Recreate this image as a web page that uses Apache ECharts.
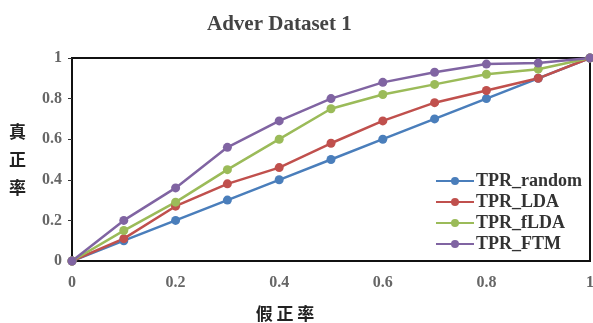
<!DOCTYPE html>
<html><head><meta charset="utf-8">
<script src="https://cdn.jsdelivr.net/npm/echarts@6/dist/echarts.min.js"></script>
<style>html,body{margin:0;padding:0;background:#fff}#c{width:593px;height:323px}</style>
</head><body><div id="c"></div>
<script>
const xValues = [0, 0.1, 0.2, 0.3, 0.4, 0.5, 0.6, 0.7, 0.8, 0.9, 1.0];
const tprRandom = [0, 0.10, 0.20, 0.30, 0.40, 0.50, 0.60, 0.70, 0.80, 0.90, 1.0];
const tprLDA    = [0, 0.11, 0.27, 0.38, 0.46, 0.58, 0.69, 0.78, 0.84, 0.90, 1.0];
const tprFLDA   = [0, 0.15, 0.29, 0.45, 0.60, 0.75, 0.82, 0.87, 0.92, 0.945, 1.0];
const tprFTM    = [0, 0.20, 0.36, 0.56, 0.69, 0.80, 0.88, 0.93, 0.97, 0.975, 1.0];
const seriesNames = ['TPR_random', 'TPR_LDA', 'TPR_fLDA', 'TPR_FTM'];
const seriesData = [tprRandom, tprLDA, tprFLDA, tprFTM];
const colors = ['#4A7EBB', '#C0504D', '#9BBB59', '#8064A2'];
const serif = '"Liberation Serif", "DejaVu Serif", serif';
const cjk = '"Noto Sans CJK SC", sans-serif';

const chart = echarts.init(document.getElementById('c'));
chart.setOption({
  animation: false,
  color: colors,
  title: {
    text: 'Adver Dataset 1', left: 202, top: 9,
    textStyle: { fontFamily: serif, fontWeight: 'bold', fontSize: 21, color: '#444' }
  },
  grid: { left: 72, right: 3, top: 58, bottom: 62, show: true, borderColor: '#111', borderWidth: 2, backgroundColor: 'transparent', outerBoundsMode: 'none', containLabel: false },
  legend: {
    orient: 'vertical', right: 6, top: 167, itemGap: 3, itemWidth: 38, itemHeight: 10,
    textStyle: { fontFamily: serif, fontWeight: 'bold', fontSize: 18, color: '#333', padding: [0,0,0,-3] },
    data: seriesNames
  },
  xAxis: {
    type: 'value', min: 0, max: 1, interval: 0.2,
    axisLine: { show: true, lineStyle: { color: '#111', width: 2 } },
    axisTick: { show: false },
    splitLine: { show: false },
    axisLabel: { fontFamily: serif, fontWeight: 'bold', fontSize: 16, color: '#666', margin: 14 },
    name: '假 正 率', nameLocation: 'middle', nameGap: 44,
    nameTextStyle: { fontFamily: cjk, fontWeight: 'bold', fontSize: 17, color: '#222', padding: [0, 92, 0, 0] }
  },
  yAxis: {
    type: 'value', min: 0, max: 1, interval: 0.2,
    axisLine: { show: true, lineStyle: { color: '#111', width: 2 } },
    axisTick: { show: true, length: 4, lineStyle: { color: '#333' } },
    splitLine: { show: false },
    axisLabel: { fontFamily: serif, fontWeight: 'bold', fontSize: 16, color: '#666', margin: 10 },
    name: '真\n正\n率', nameLocation: 'middle', nameRotate: 0, nameGap: 46,
    nameTextStyle: { fontFamily: cjk, fontWeight: 'bold', fontSize: 17, color: '#222', lineHeight: 28 }
  },
  series: seriesNames.map((n, i) => ({
    name: n, type: 'line',
    data: xValues.map((x, j) => [x, seriesData[i][j]]),
    symbol: 'circle', symbolSize: 9,
    lineStyle: { width: 2.5, color: colors[i] },
    itemStyle: { color: colors[i] }
  }))
});
</script></body></html>
